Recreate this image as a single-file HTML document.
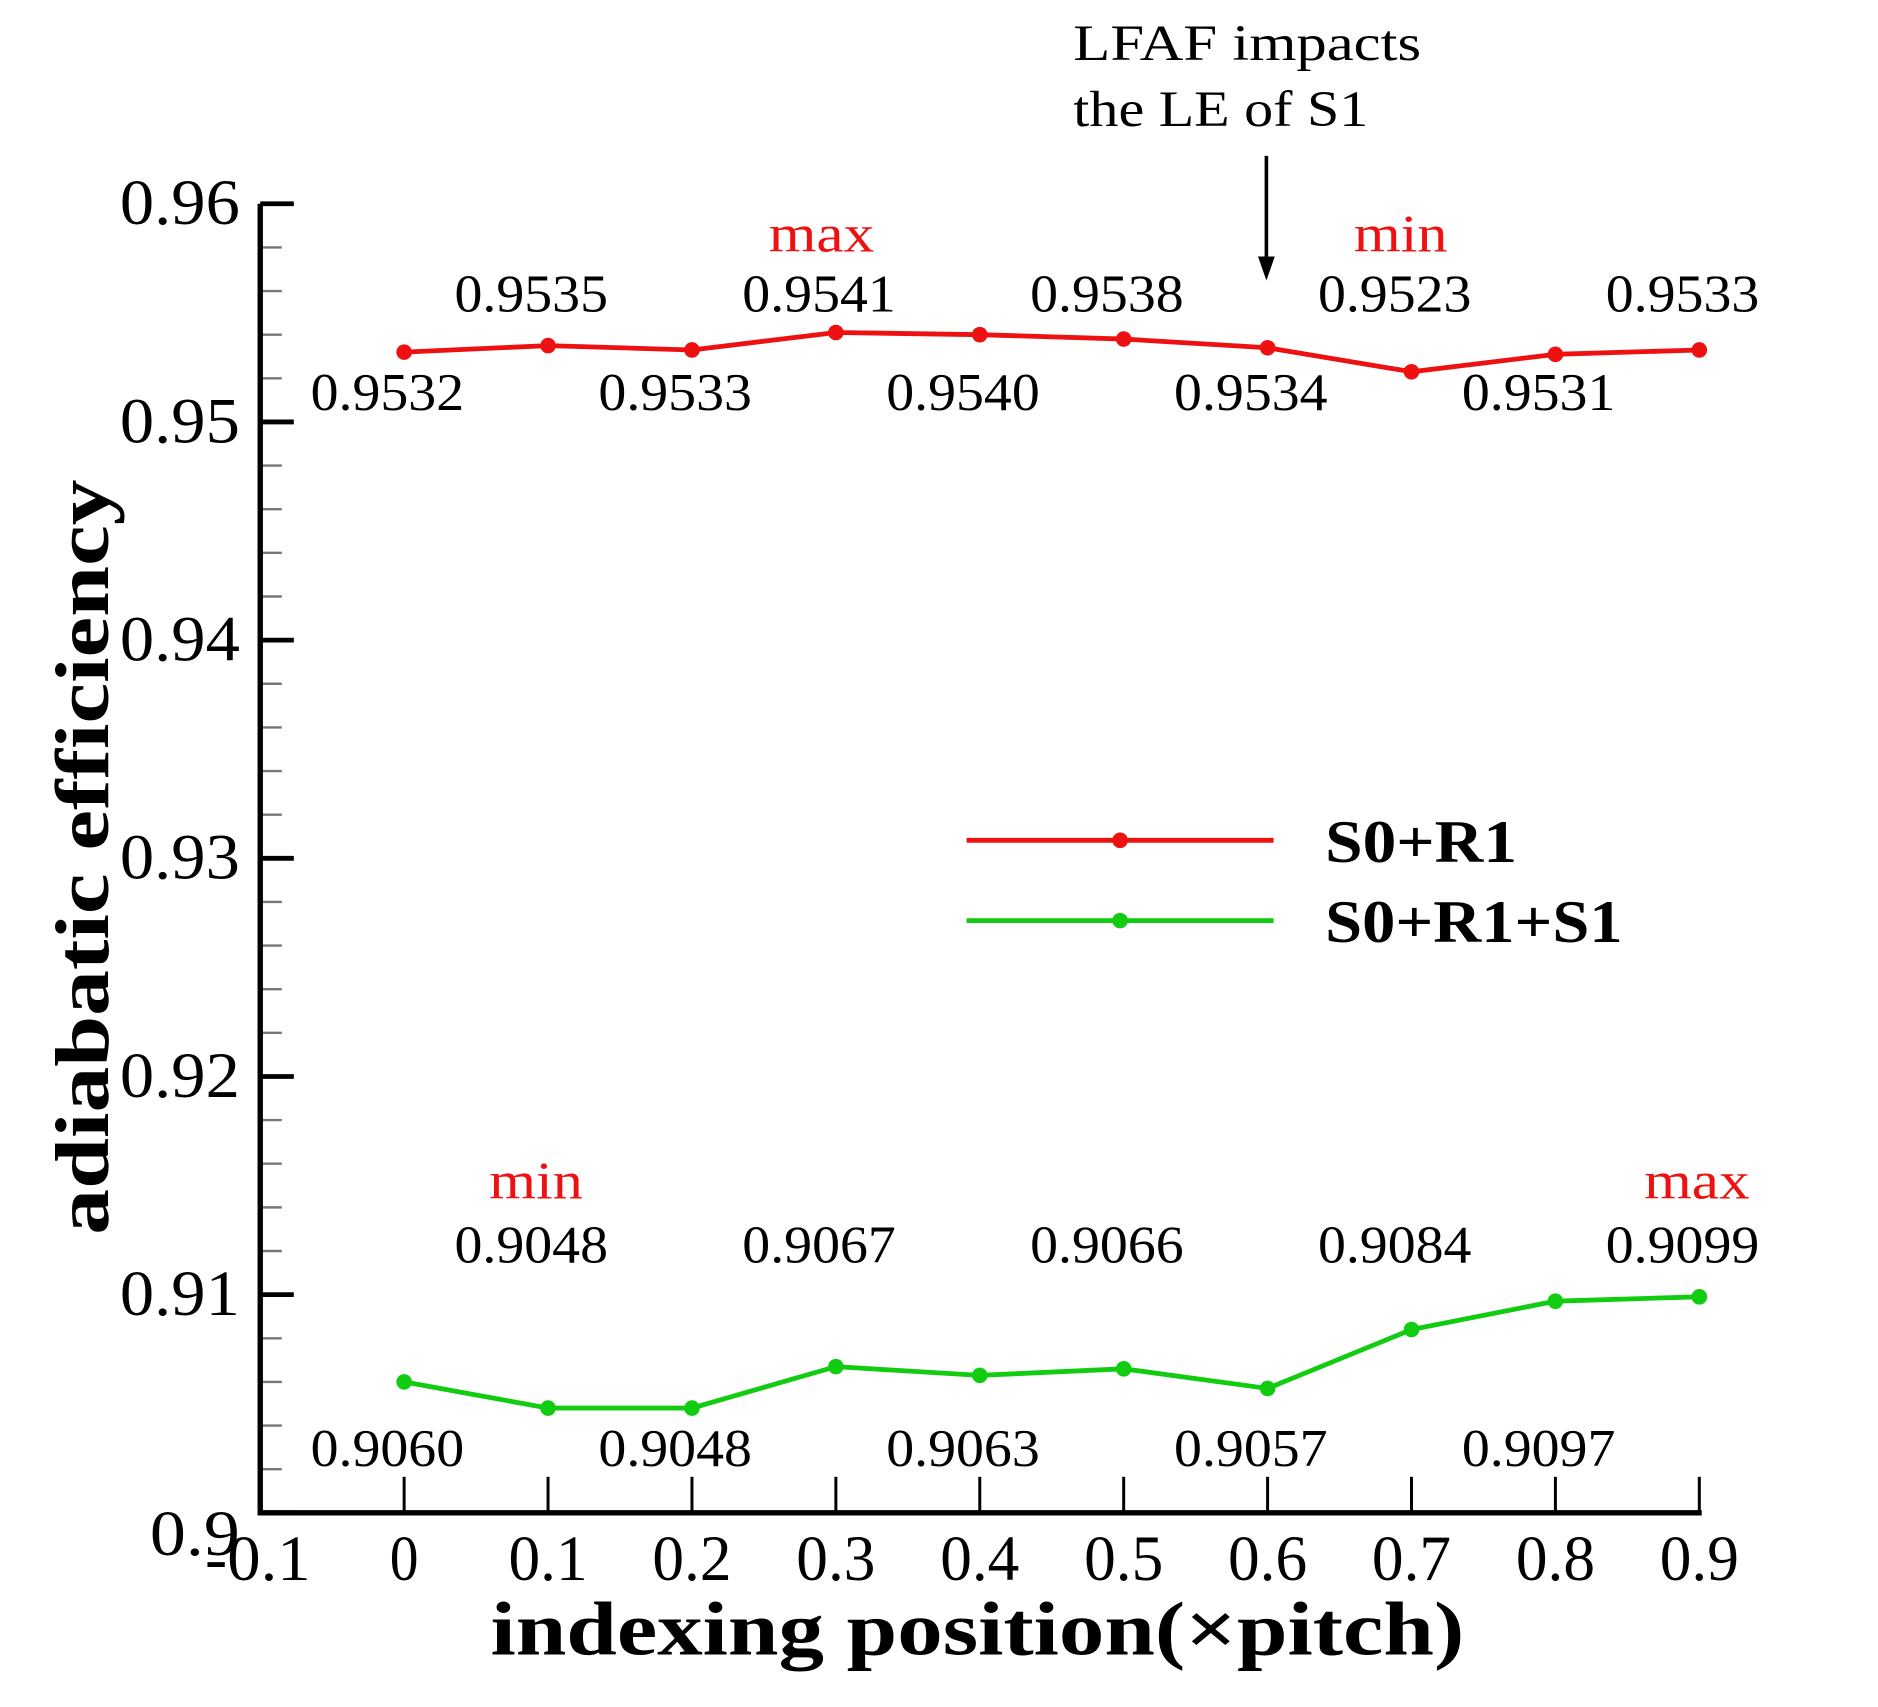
<!DOCTYPE html>
<html><head><meta charset="utf-8"><style>
html,body{margin:0;padding:0;background:#fff}
svg{display:block}
text{font-family:"Liberation Serif",serif}
</style></head><body>
<svg id="chart" width="1878" height="1707" viewBox="0 0 1566 1424" preserveAspectRatio="none" xmlns="http://www.w3.org/2000/svg"></svg>
<script>
const categories=[0,0.1,0.2,0.3,0.4,0.5,0.6,0.7,0.8,0.9];
const seriesRed=[0.9532,0.9535,0.9533,0.9541,0.9540,0.9538,0.9534,0.9523,0.9531,0.9533];
const seriesGreen=[0.9060,0.9048,0.9048,0.9067,0.9063,0.9066,0.9057,0.9084,0.9097,0.9099];
const xTicks=[-0.1,0,0.1,0.2,0.3,0.4,0.5,0.6,0.7,0.8,0.9];
const xTickLabels=["-0.1","0","0.1","0.2","0.3","0.4","0.5","0.6","0.7","0.8","0.9"];
const yTicks=[0.9,0.91,0.92,0.93,0.94,0.95,0.96];
const yTickLabels=["0.9","0.91","0.92","0.93","0.94","0.95","0.96"];
const svg=document.getElementById('chart');
const NS='http://www.w3.org/2000/svg';
const X=v=>217+(v+0.1)*1200;
const Y=v=>1262-(v-0.9)*18200;
function mk(tag,attrs,parent){const e=document.createElementNS(NS,tag);for(const k in attrs)e.setAttribute(k,attrs[k]);(parent||svg).appendChild(e);return e;}
function txt(s,x,y,size,attrs){const t=mk('text',Object.assign({x:x,y:y,'font-size':size},attrs||{}));t.textContent=s;return t;}
for(let i=0;i<=30;i++){const v=0.9+i*0.002;if(i%5===0)continue;
 const l=mk('line',{x1:217,x2:235,y1:Y(v),y2:Y(v),stroke:'#777','stroke-width':2});
 
 }
yTicks.forEach((v,i)=>{
 const l=mk('line',{x1:217,x2:245,y1:Y(v),y2:Y(v),stroke:'#000','stroke-width':4});
 
 
 const s=yTickLabels[i];
 const t=txt(s,200,Y(v)+(i===0?35:17),54,{'text-anchor':'end',textLength:s.length*25,lengthAdjust:'spacingAndGlyphs'});
 
 });
xTicks.forEach((v,i)=>{
 const l=mk('line',{x1:X(v),x2:X(v),y1:1232,y2:1262,stroke:'#000','stroke-width':2.5});
 
 
 const s=xTickLabels[i];
 const t=txt(s,X(v)-(i===0?2:0),1318,54,{'text-anchor':'middle',textLength:s==='0'?24:(s.length*22),lengthAdjust:'spacingAndGlyphs'});
 
 });
const ax=mk('path',{d:'M217 170 L217 1262 L1419 1262',fill:'none',stroke:'#000','stroke-width':4.5});


function series(vals,color,name,aboveY,belowY){
 const pts=vals.map((v,i)=>X(categories[i])+','+Y(v)).join(' ');
 const pl=mk('polyline',{points:pts,fill:'none',stroke:color,'stroke-width':4});
 
 
 vals.forEach((v,i)=>{
  const c=mk('circle',{cx:X(categories[i]),cy:Y(v),r:6.5,fill:color});
  
  
  const t=txt(v.toFixed(4),X(categories[i])-14,i%2?aboveY:belowY,44,{'text-anchor':'middle',textLength:128,lengthAdjust:'spacingAndGlyphs'});
  
  });}
series(seriesRed,'#ee1111','s0-r1',260,342);
series(seriesGreen,'#11cc11','s0-r1-s1',1053,1223);
[['max',685,210],['min',1168,210],['min',447,1000],['max',1415,1000]].forEach(a=>{
 const t=txt(a[0],a[1],a[2],44,{'text-anchor':'middle',fill:'#ee1111',textLength:a[0]==='max'?88:78,lengthAdjust:'spacingAndGlyphs'});
 
 });
const a1=txt('LFAF impacts',895,50,42,{textLength:290,lengthAdjust:'spacingAndGlyphs'});
const a2=txt('the LE of S1',895,105,42,{textLength:246,lengthAdjust:'spacingAndGlyphs'});
const ar=mk('line',{x1:1056,x2:1056,y1:130,y2:220,stroke:'#000','stroke-width':3});
const ah=mk('path',{d:'M1049 214 L1063 214 L1056 234 Z',fill:'#000'});
[['#ee1111','S0+R1',701,160],['#11cc11','S0+R1+S1',768,248]].forEach(l=>{
 const g=mk('g',{});
 mk('line',{x1:806,x2:1062,y1:l[2],y2:l[2],stroke:l[0],'stroke-width':4},g);
 mk('circle',{cx:934,cy:l[2],r:6.5,fill:l[0]},g);
 const t=txt(l[1],1105,l[2]+18,50,{'font-weight':'bold',textLength:l[3],lengthAdjust:'spacingAndGlyphs'});g.appendChild(t);});
const xt=txt('indexing position(×pitch)',815,1380,64,{'text-anchor':'middle','font-weight':'bold',textLength:812,lengthAdjust:'spacingAndGlyphs'});

const yt=txt('adiabatic efficiency',0,0,64,{'text-anchor':'middle','font-weight':'bold',textLength:630,lengthAdjust:'spacingAndGlyphs',transform:'translate(90,715) rotate(-90)'});

</script>
</body></html>
